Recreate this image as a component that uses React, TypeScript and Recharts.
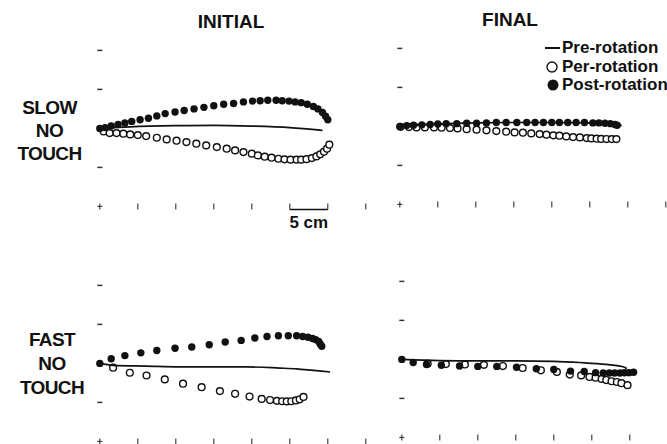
import { ScatterChart, Scatter, XAxis, YAxis } from "recharts"

type Pt = [number, number]

// axis furniture (cm)
const xTicks = [0, 5, 10, 15, 20, 25, 30, 35]
const yTicks = [-5, 0, 5, 10]
const tickRowY = -10
const scaleBar: Pt[] = [[25, -10.4], [30, -10.4]]
const scaleLabel: Pt[] = [[27.5, -12.1]]

// INITIAL, slow no touch
const slowInitialPre: Pt[] = [[0, 0], [4, 0.2], [10, 0.35], [15, 0.4], [20, 0.3], [25, 0.1], [29.3, -0.25]]
const slowInitialPer: Pt[] = [
  [0.5, -0.4], [1.3, -0.6], [2.2, -0.6], [3.1, -0.68], [4.0, -0.77], [5.0, -0.86], [6.1, -0.99], [7.5, -1.2],
  [8.8, -1.41], [10.1, -1.58], [11.4, -1.76], [12.7, -1.96], [14.0, -2.18], [15.4, -2.4], [16.7, -2.6],
  [17.8, -2.82], [18.9, -3.04], [20.0, -3.24], [20.8, -3.46], [21.7, -3.63], [22.6, -3.76], [23.5, -3.89],
  [24.3, -3.97], [25.1, -4.01], [25.9, -4.01], [26.5, -4.01], [27.2, -3.94], [27.9, -3.81], [28.5, -3.59],
  [29.0, -3.33], [29.5, -2.99], [29.9, -2.6], [30.2, -2.09],
]
const slowInitialPost: Pt[] = [
  [0, 0], [0.7, 0.1], [1.5, 0.3], [2.4, 0.5], [3.3, 0.7], [4.2, 0.9], [5.3, 1.1], [6.4, 1.3], [7.5, 1.6],
  [8.6, 1.9], [9.9, 2.1], [11.1, 2.3], [12.4, 2.5], [13.7, 2.7], [15.0, 2.9], [16.3, 3.1], [17.6, 3.2],
  [18.9, 3.4], [20.1, 3.5], [21.1, 3.55], [22.1, 3.6], [23.2, 3.6], [24.0, 3.55], [24.9, 3.5], [25.7, 3.4],
  [26.5, 3.3], [27.3, 3.1], [28.1, 2.8], [28.7, 2.5], [29.3, 2.05], [29.7, 1.55], [30.0, 1.1],
]

// FINAL, slow no touch
const slowFinalPre: Pt[] = [[0, 0], [5, 0.3], [10, 0.45], [15, 0.5], [20, 0.5], [25, 0.45], [28, 0.35], [29.2, 0.1]]
const slowFinalPer: Pt[] = [
  [0.1, -0.06], [1.2, -0.09], [2.2, -0.13], [3.3, -0.13], [4.5, -0.13], [5.5, -0.17], [6.6, -0.22], [7.6, -0.26],
  [8.8, -0.35], [10.1, -0.42], [11.4, -0.51], [12.7, -0.6], [14.0, -0.68], [15.1, -0.77], [16.2, -0.81],
  [17.3, -0.9], [18.4, -0.99], [19.3, -1.06], [20.2, -1.15], [21.0, -1.19], [21.9, -1.28], [22.8, -1.37],
  [23.7, -1.41], [24.6, -1.5], [25.2, -1.54], [25.9, -1.58], [26.5, -1.6], [27.2, -1.62], [27.9, -1.63], [28.5, -1.63],
]
const slowFinalPost: Pt[] = [
  [0, 0], [0.9, 0.1], [1.8, 0.15], [2.9, 0.2], [4.0, 0.25], [5.0, 0.3], [6.1, 0.35], [7.5, 0.35], [8.8, 0.4],
  [10.1, 0.4], [11.4, 0.45], [12.7, 0.5], [14.0, 0.5], [15.4, 0.5], [16.7, 0.5], [17.8, 0.5], [18.9, 0.5],
  [20.0, 0.5], [21.0, 0.5], [22.1, 0.5], [23.2, 0.5], [24.3, 0.5], [25.4, 0.45], [26.2, 0.45], [27.0, 0.4],
  [27.7, 0.35], [28.3, 0.25], [28.6, 0.15],
]

// INITIAL, fast no touch
const fastInitialPre: Pt[] = [[0, 0], [1.75, -0.25], [6.1, -0.35], [10.5, -0.45], [14.9, -0.45], [19.3, -0.45], [23.7, -0.6], [25.9, -0.7], [28.1, -0.9], [30.3, -1.1]]
const fastInitialPer: Pt[] = [
  [1.75, -0.55], [3.95, -1.2], [6.15, -1.55], [8.55, -2.05], [10.95, -2.6], [13.4, -3.05], [15.8, -3.55],
  [17.8, -3.9], [19.7, -4.25], [21.3, -4.55], [22.4, -4.7], [23.3, -4.8], [24.0, -4.85], [24.6, -4.87],
  [25.2, -4.85], [25.8, -4.75], [26.3, -4.6], [26.8, -4.3],
]
const fastInitialPost: Pt[] = [
  [0, 0], [1.5, 0.6], [3.3, 1.0], [5.4, 1.35], [7.5, 1.65], [9.9, 1.95], [12.1, 2.1], [14.4, 2.4], [16.5, 2.75],
  [18.6, 2.95], [20.4, 3.25], [22.0, 3.45], [23.5, 3.55], [24.8, 3.55], [25.9, 3.55], [26.7, 3.45], [27.4, 3.35],
  [28.0, 3.2], [28.4, 3.05], [28.8, 2.8], [29.0, 2.5], [29.2, 2.2],
]

// FINAL, fast no touch
const fastFinalPre: Pt[] = [[0, 0], [5, -0.15], [10, -0.2], [15, -0.2], [20, -0.25], [23.4, -0.4], [26.9, -0.65], [29.3, -1.0], [29.6, -1.2]]
const fastFinalPer: Pt[] = [
  [3.4, -0.55], [5.8, -0.6], [8.3, -0.65], [10.8, -0.7], [13.3, -0.85], [15.9, -1.1], [18.3, -1.4], [20.4, -1.6],
  [22.1, -1.95], [23.6, -2.05], [24.7, -2.25], [25.5, -2.35], [26.3, -2.5], [26.9, -2.65], [27.6, -2.8],
  [28.3, -2.9], [28.9, -3.05], [29.7, -3.3],
]
const fastFinalPost: Pt[] = [
  [0, 0], [1.5, -0.4], [3.25, -0.65], [5.2, -0.75], [7.6, -0.85], [10.0, -0.9], [12.5, -0.9], [15.1, -1.0],
  [17.7, -1.2], [20.0, -1.3], [22.2, -1.5], [24.0, -1.55], [25.5, -1.7], [26.5, -1.75], [27.3, -1.75],
  [28.0, -1.75], [28.7, -1.75], [29.3, -1.72], [29.9, -1.7], [30.5, -1.65],
]

const INK = "#111"
const FONT = '"Liberation Sans", Arial, Helvetica, sans-serif'

// px per cm and the cm window each panel shows
const SX = 7.6
const SY = 7.8
const X_MIN = -3
const X_MAX = 37
const Y_MIN = -14
const Y_MAX = 13

const toObj = (pts: Pt[]) => pts.map(([x, y]) => ({ x, y }))

const yDashPts = toObj(yTicks.map((y) => [0, y] as Pt))
const xTickPts = toObj(xTicks.filter((x) => x !== 0).map((x) => [x, tickRowY] as Pt))
const originPt = toObj([[0, tickRowY]])

/* eslint-disable @typescript-eslint/no-explicit-any */
const openDot = (p: any) => <circle cx={p.cx} cy={p.cy} r={3.4} fill="#fff" stroke={INK} strokeWidth={1.4} />
const filledDot = (p: any) => <circle cx={p.cx} cy={p.cy} r={3.7} fill={INK} />
const noDot = () => <g />
const yDash = (p: any) => <line x1={p.cx - 2.5} x2={p.cx + 2.5} y1={p.cy} y2={p.cy} stroke="#333" strokeWidth={1.5} />
const xTick = (p: any) => <line x1={p.cx} x2={p.cx} y1={p.cy - 3} y2={p.cy + 3} stroke="#333" strokeWidth={1.1} />
const plus = (p: any) => (
  <g stroke="#333" strokeWidth={1.1}>
    <line x1={p.cx - 2.5} x2={p.cx + 2.5} y1={p.cy} y2={p.cy} />
    <line x1={p.cx} x2={p.cx} y1={p.cy - 3} y2={p.cy + 3} />
  </g>
)
const cmText = (p: any) => (
  <text x={p.cx} y={p.cy} textAnchor="middle" dominantBaseline="central" fontFamily={FONT} fontWeight={700} fontSize={17} fill={INK}>
    5 cm
  </text>
)

interface PanelProps {
  ox: number
  oy: number
  pre: Pt[]
  per: Pt[]
  post: Pt[]
  bar?: boolean
}

function Panel({ ox, oy, pre, per, post, bar }: PanelProps) {
  const w = (X_MAX - X_MIN) * SX
  const h = (Y_MAX - Y_MIN) * SY
  return (
    <div style={{ position: "absolute", left: ox + X_MIN * SX, top: oy - Y_MAX * SY }}>
      <ScatterChart width={w} height={h} margin={{ top: 0, right: 0, bottom: 0, left: 0 }}>
        <XAxis type="number" dataKey="x" domain={[X_MIN, X_MAX]} hide />
        <YAxis type="number" dataKey="y" domain={[Y_MIN, Y_MAX]} hide />
        <Scatter data={yDashPts} shape={yDash} isAnimationActive={false} />
        <Scatter data={xTickPts} shape={xTick} isAnimationActive={false} />
        <Scatter data={originPt} shape={plus} isAnimationActive={false} />
        {bar && (
          <Scatter data={toObj(scaleBar)} shape={noDot} line={{ stroke: INK, strokeWidth: 1.5 }} isAnimationActive={false} />
        )}
        {bar && <Scatter data={toObj(scaleLabel)} shape={cmText} isAnimationActive={false} />}
        <Scatter data={toObj(per)} shape={openDot} isAnimationActive={false} />
        <Scatter data={toObj(post)} shape={filledDot} isAnimationActive={false} />
        <Scatter
          data={toObj(pre)}
          shape={noDot}
          line={{ stroke: INK, strokeWidth: 1.7, fill: "none" }}
          lineJointType="monotoneX"
          isAnimationActive={false}
        />
      </ScatterChart>
    </div>
  )
}

const txt = { position: "absolute" as const, fontFamily: FONT, fontWeight: 700, color: INK, whiteSpace: "nowrap" as const }

function LegendRow({ kind, label }: { kind: "line" | "open" | "filled"; label: string }) {
  return (
    <div style={{ display: "flex", alignItems: "center", height: 18.5 }}>
      <svg width={19} height={18} style={{ display: "block" }}>
        {kind === "line" && <line x1={2} x2={17} y1={9} y2={9} stroke={INK} strokeWidth={2} />}
        {kind === "open" && <circle cx={9} cy={9} r={5} fill="#fff" stroke={INK} strokeWidth={1.4} />}
        {kind === "filled" && <circle cx={10} cy={9} r={5.5} fill={INK} />}
      </svg>
      <span style={{ fontSize: 17, lineHeight: "18px" }}>{label}</span>
    </div>
  )
}

export default function App() {
  return (
    <div style={{ position: "absolute", left: 0, top: 0, width: 667, height: 444, overflow: "hidden", background: "#fff" }}>
      <Panel ox={100} oy={128} pre={slowInitialPre} per={slowInitialPer} post={slowInitialPost} bar />
      <Panel ox={400} oy={126} pre={slowFinalPre} per={slowFinalPer} post={slowFinalPost} />
      <Panel ox={100} oy={363} pre={fastInitialPre} per={fastInitialPer} post={fastInitialPost} />
      <Panel ox={402} oy={359} pre={fastFinalPre} per={fastFinalPer} post={fastFinalPost} />

      <div style={{ ...txt, left: 181, top: 11, width: 100, textAlign: "center", fontSize: 19, lineHeight: "22px" }}>INITIAL</div>
      <div style={{ ...txt, left: 460, top: 9, width: 100, textAlign: "center", fontSize: 19, lineHeight: "22px" }}>FINAL</div>

      <div style={{ ...txt, left: 0, top: 95.5, width: 99, textAlign: "center", fontSize: 19, letterSpacing: "-0.6px", lineHeight: "23px" }}>
        SLOW<br />NO<br />TOUCH
      </div>
      <div style={{ ...txt, left: 2, top: 328, width: 100, textAlign: "center", fontSize: 19, letterSpacing: "-0.6px", lineHeight: "24px" }}>
        FAST<br />NO<br />TOUCH
      </div>

      <div style={{ ...txt, left: 543, top: 39 }}>
        <LegendRow kind="line" label="Pre-rotation" />
        <LegendRow kind="open" label="Per-rotation" />
        <LegendRow kind="filled" label="Post-rotation" />
      </div>
    </div>
  )
}
